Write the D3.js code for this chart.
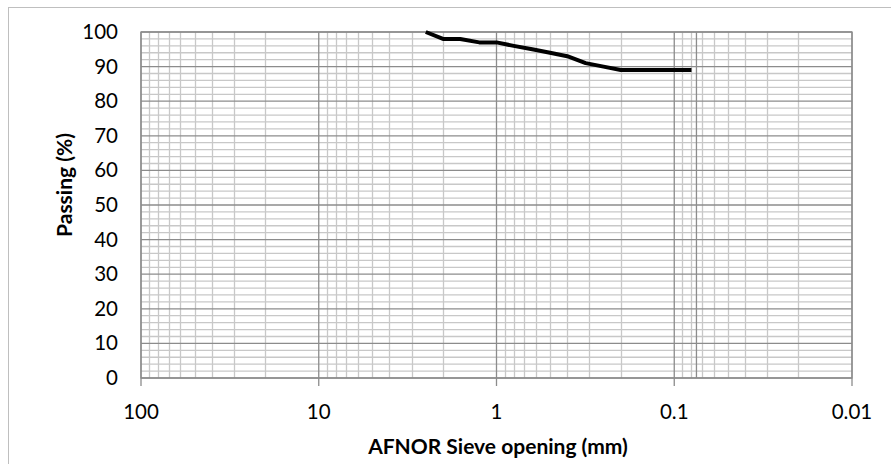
<!DOCTYPE html>
<html>
<head>
<meta charset="utf-8">
<script src="https://cdn.jsdelivr.net/npm/d3@7/dist/d3.min.js"></script>
<style>
  html, body { margin: 0; padding: 0; background: #fff; }
  svg { display: block; }
  text { font-family: Lato, "Open Sans", sans-serif; fill: #000; }
</style>
</head>
<body>
<svg id="chart" width="891" height="464"></svg>
<script>
// ---- data ----
const sieveSizes = [2.5, 2, 1.6, 1.25, 1, 0.8, 0.63, 0.5, 0.4, 0.315, 0.25, 0.2, 0.16, 0.125, 0.1, 0.08];
const passing    = [100, 98, 98, 97, 97, 96, 95, 94, 93, 91, 90, 89, 89, 89, 89, 89];
const xTickLabels = ["100", "10", "1", "0.1", "0.01"];
const xTickValues = [100, 10, 1, 0.1, 0.01];
const yTickValues = [0, 10, 20, 30, 40, 50, 60, 70, 80, 90, 100];
const markerLine = [0.075];
const xTitle = "AFNOR Sieve opening (mm)";
const yTitle = "Passing (%)";

// ---- layout ----
const svg = d3.select("#chart");
const L = 141, R = 852, T = 32, B = 378;

const x = d3.scaleLog().domain([100, 0.01]).range([L, R]);
const y = d3.scaleLinear().domain([0, 100]).range([B, T]);

// outer chart border
svg.append("rect").attr("x", 8.5).attr("y", 7.5).attr("width", 900).attr("height", 500)
  .attr("fill", "none").attr("stroke", "#bfbfbf").attr("stroke-width", 1);

const g = svg.append("g");

// minor vertical gridlines
const minorX = [];
[10, 1, 0.1, 0.01].forEach(d => { for (let k = 2; k <= 9; k++) minorX.push(d * k); });
g.selectAll(".vminor").data(minorX).join("line")
  .attr("x1", d => Math.round(x(d)) + 0.5).attr("x2", d => Math.round(x(d)) + 0.5)
  .attr("y1", T).attr("y2", B)
  .attr("stroke", "#c8c8c8").attr("stroke-width", 1.3);

// minor horizontal gridlines
const minorY = d3.range(0, 101, 2).filter(v => v % 10 !== 0);
g.selectAll(".hminor").data(minorY).join("line")
  .attr("x1", L).attr("x2", R)
  .attr("y1", d => y(d)).attr("y2", d => y(d))
  .attr("stroke", "#c8c8c8").attr("stroke-width", 1.3);

// major horizontal gridlines
g.selectAll(".hmajor").data(yTickValues).join("line")
  .attr("x1", L).attr("x2", R)
  .attr("y1", d => y(d)).attr("y2", d => y(d))
  .attr("stroke", "#8c8c8c").attr("stroke-width", 1.3);

// major vertical gridlines (with tick extension below)
g.selectAll(".vmajor").data(xTickValues).join("line")
  .attr("x1", d => x(d)).attr("x2", d => x(d))
  .attr("y1", T).attr("y2", B + 8)
  .attr("stroke", "#8c8c8c").attr("stroke-width", 1.3);

// marker line
g.selectAll(".marker").data(markerLine).join("line")
  .attr("x1", d => x(d)).attr("x2", d => x(d))
  .attr("y1", T).attr("y2", B)
  .attr("stroke", "#8c8c8c").attr("stroke-width", 1.3);

// plot border
g.append("rect").attr("x", L).attr("y", T).attr("width", R - L).attr("height", B - T)
  .attr("fill", "none").attr("stroke", "#8c8c8c").attr("stroke-width", 1.3);

// curve
const pts = sieveSizes.map((s, i) => [s, passing[i]]);
g.append("path").datum(pts)
  .attr("d", d3.line().x(d => x(d[0])).y(d => y(d[1])))
  .attr("fill", "none").attr("stroke", "#000").attr("stroke-width", 4)
  .attr("stroke-linejoin", "round");

// y labels
svg.selectAll(".ylab").data(yTickValues).join("text")
  .attr("x", 118).attr("y", d => y(d) + 7)
  .attr("text-anchor", "end").attr("font-size", 20.5)
  .text(d => d);

// x labels
svg.selectAll(".xlab").data(xTickValues).join("text")
  .attr("x", d => x(d)).attr("y", 419)
  .attr("text-anchor", "middle").attr("font-size", 20.5)
  .text((d, i) => xTickLabels[i]);

// axis titles
svg.append("text").attr("x", 498).attr("y", 454)
  .attr("text-anchor", "middle").attr("font-size", 21).attr("font-weight", "bold")
  .text(xTitle);
svg.append("text").attr("transform", "translate(72,185) rotate(-90)")
  .attr("text-anchor", "middle").attr("font-size", 21).attr("font-weight", "bold")
  .text(yTitle);
</script>
</body>
</html>
